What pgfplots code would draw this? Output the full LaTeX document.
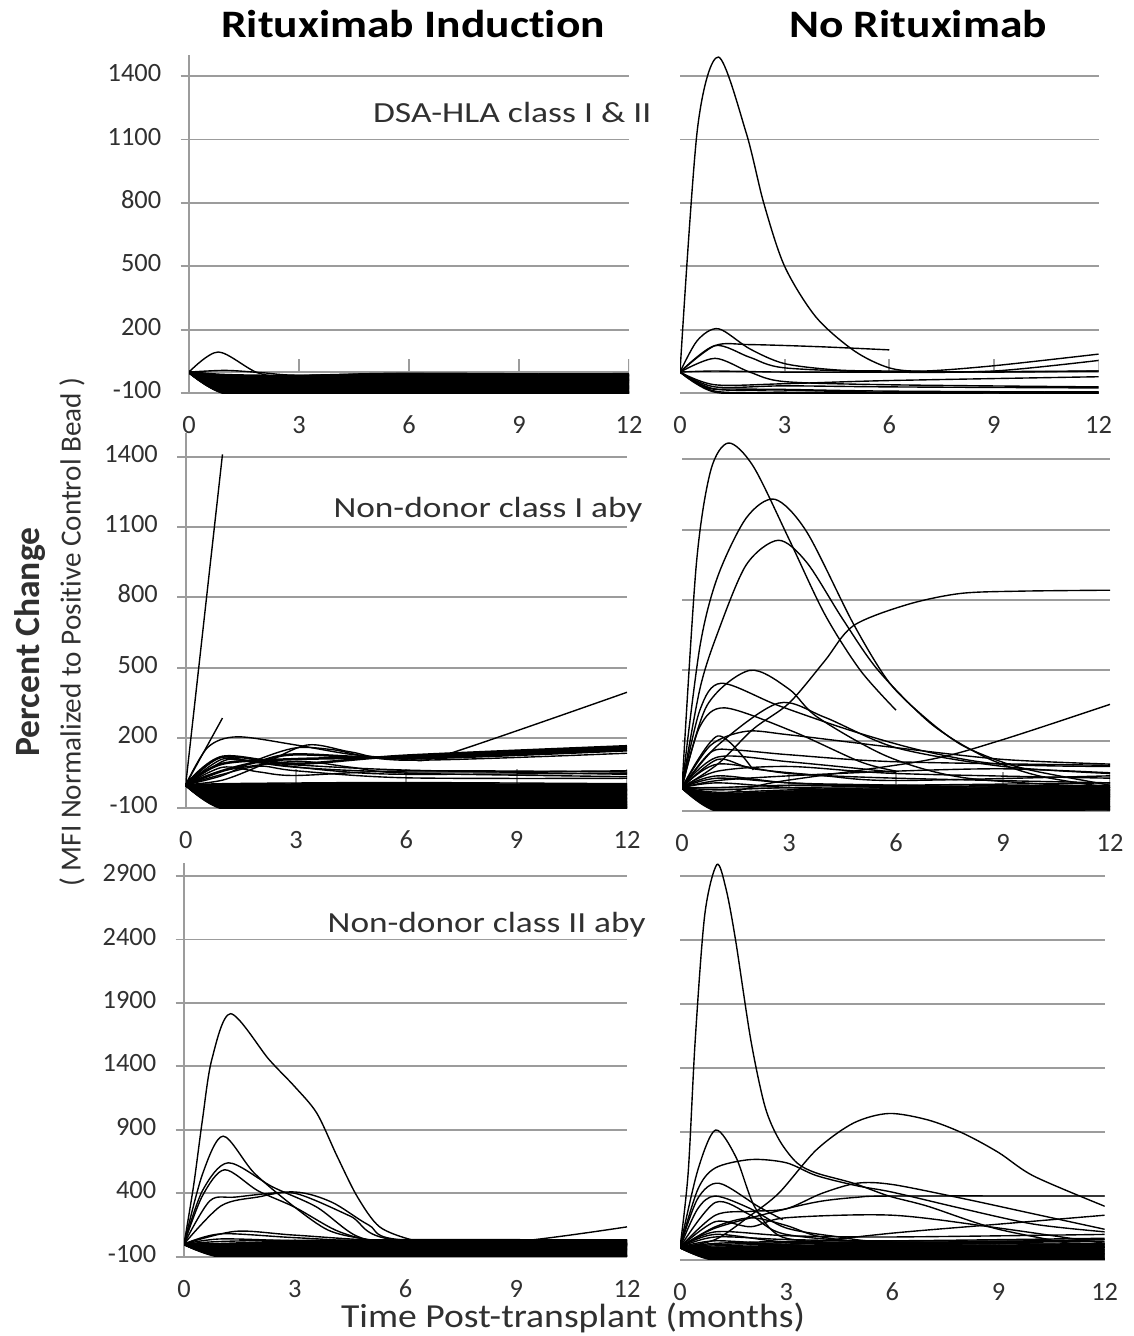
\documentclass[border=0pt]{standalone}
\usepackage{fontspec}
\setmainfont{Carlito}[Ligatures=NoCommon]
\usepackage{pgfplots}
\pgfplotsset{compat=1.18}
\definecolor{gridgray}{HTML}{9C9C9C}
\definecolor{txt}{HTML}{303030}
\pgfplotsset{
  panel/.style={
    scale only axis, xmin=0, xmax=12, xtick={0,3,6,9,12},
    ymajorgrids, major grid style={gridgray, line width=0.7pt},
    axis lines=left, axis line style={-},
    x axis line style={draw=none},
    y axis line style={gridgray, line width=0.7pt},
    tick align=outside, major tick length=3pt,
    xtick style={draw=none},
    ytick style={gridgray, line width=0.7pt},
    ticklabel style={font=\fontsize{9.5}{10}\selectfont, text=txt},
    typeset ticklabels with strut,
    /pgf/number format/assume math mode=true,
    /pgf/number format/1000 sep={},
    xticklabel style={yshift=-1pt},
    yticklabel style={xshift=-3.5pt},
    clip=true,
  },
  rpanel/.style={panel, y axis line style={draw=none}, ytick style={draw=none}, yticklabels={}},
  ln/.style={black, line width=0.5pt, smooth},
  bd/.style={black, line width=0.9pt, smooth},
}
\newcommand{\zeroaxis}{%
  \draw[gridgray, line width=0.7pt] (axis cs:0,0) -- (axis cs:12,0);
  \draw[gridgray, line width=0.7pt] (axis cs:3,0) -- ++(0,-2.8pt);
  \draw[gridgray, line width=0.7pt] (axis cs:6,0) -- ++(0,-2.8pt);
  \draw[gridgray, line width=0.7pt] (axis cs:9,0) -- ++(0,-2.8pt);
  \draw[gridgray, line width=0.7pt] (axis cs:12,0) -- ++(0,-2.8pt);
}
\begin{document}
\begin{tikzpicture}
\useasboundingbox (0,0) rectangle (408.24pt,480.96pt);

% ---------------- Row 1 left ----------------
\begin{axis}[panel, at={(68.04pt,339.39pt)}, anchor=south west,
  width=158.4pt, height=121.79pt, ymin=-100, ymax=1500,
  ytick={-100,200,500,800,1100,1400}]
\zeroaxis
\addplot[ln] coordinates {(0,0)(0.8,95)(1.9,-5)(3,-22)(6,-12)(12,-18)};
\addplot[ln] coordinates {(0,0)(1,8)(2,-3)(3,-15)(6,-8)(12,-12)};
\addplot[bd] coordinates {(0,0)(1,-100)(3,-100)(6,-100)(12,-100)};
\addplot[bd] coordinates {(0,0)(1,-98)(3,-95)(6,-97)(12,-99)};
\addplot[bd] coordinates {(0,0)(1,-95)(3,-90)(6,-92)(12,-96)};
\addplot[bd] coordinates {(0,0)(1,-92)(3,-88)(6,-85)(12,-90)};
\addplot[bd] coordinates {(0,0)(1,-90)(3,-82)(6,-80)(12,-86)};
\addplot[bd] coordinates {(0,0)(1,-85)(3,-78)(6,-75)(12,-82)};
\addplot[bd] coordinates {(0,0)(1,-80)(3,-74)(6,-70)(12,-78)};
\addplot[bd] coordinates {(0,0)(1,-75)(3,-70)(6,-66)(12,-72)};
\addplot[bd] coordinates {(0,0)(1,-70)(3,-65)(6,-60)(12,-68)};
\addplot[bd] coordinates {(0,0)(1,-66)(3,-60)(6,-56)(12,-64)};
\addplot[bd] coordinates {(0,0)(1,-62)(3,-56)(6,-52)(12,-60)};
\addplot[bd] coordinates {(0,0)(1,-58)(3,-52)(6,-48)(12,-55)};
\addplot[bd] coordinates {(0,0)(1,-54)(3,-48)(6,-44)(12,-52)};
\addplot[bd] coordinates {(0,0)(1,-50)(3,-44)(6,-40)(12,-48)};
\addplot[bd] coordinates {(0,0)(1,-46)(3,-40)(6,-36)(12,-45)};
\addplot[bd] coordinates {(0,0)(1,-42)(3,-36)(6,-32)(12,-42)};
\addplot[bd] coordinates {(0,0)(1,-38)(3,-33)(6,-28)(12,-38)};
\addplot[bd] coordinates {(0,0)(1,-34)(3,-30)(6,-25)(12,-35)};
\addplot[bd] coordinates {(0,0)(1,-30)(3,-28)(6,-20)(12,-32)};
\addplot[bd] coordinates {(0,0)(1,-26)(3,-25)(6,-16)(12,-28)};
\addplot[bd] coordinates {(0,0)(1,-22)(3,-22)(6,-12)(12,-25)};
\addplot[bd] coordinates {(0,0)(1,-18)(3,-20)(6,-10)(12,-20)};
\addplot[bd] coordinates {(0,0)(1,-14)(3,-18)(6,-8)(12,-15)};
\addplot[bd] coordinates {(0,0)(1,-20)(3,-30)(6,-15)(12,-10)};
\addplot[bd] coordinates {(0,0)(1,-60)(3,-70)(6,-90)(12,-95)};
\addplot[bd] coordinates {(0,0)(1,-35)(3,-45)(6,-55)(12,-70)};
\addplot[bd] coordinates {(0,0)(1,-45)(3,-55)(6,-30)(12,-40)};
\addplot[bd] coordinates {(0,0)(1,-100)(3,-95)(6,-85)(12,-75)};
\end{axis}

% ---------------- Row 1 right ----------------
\begin{axis}[rpanel, at={(244.8pt,339.39pt)}, anchor=south west,
  width=150.66pt, height=121.79pt, ymin=-100, ymax=1500,
  ytick={-100,200,500,800,1100,1400}]
\zeroaxis
\addplot[ln] coordinates {(0,0)(0.5,1150)(1.1,1490)(1.9,1130)(2.4,800)(3,500)(3.9,260)(5,100)(6,20)(7,5)(9,30)(12,85)};
\addplot[ln] coordinates {(0,0)(0.5,150)(1.1,205)(2,110)(3,40)(4.5,10)(6,5)(9,0)(12,5)};
\addplot[ln] coordinates {(0,0)(1,125)(2,130)(4,120)(6,105)};
\addplot[ln] coordinates {(0,0)(1,125)(2,70)(3,20)(6,0)(9,5)(12,55)};
\addplot[ln] coordinates {(0,0)(1,65)(2,0)(3,-45)(6,-60)(12,-70)};
\addplot[ln] coordinates {(0,0)(1,-80)(3,-85)(6,-95)(12,-93)};
\addplot[ln] coordinates {(0,0)(1,-90)(3,-95)(6,-98)(12,-100)};
\addplot[ln] coordinates {(0,0)(1,-70)(3,-65)(6,-70)(12,-75)};
\addplot[ln] coordinates {(0,0)(1,-60)(3,-55)(6,-40)(12,-22)};
\addplot[ln] coordinates {(0,0)(1,5)(3,0)(6,0)(12,5)};
\addplot[ln] coordinates {(0,0)(0.8,-75)(1.5,-80)(3,-82)(6,-90)(12,-95)};
\addplot[ln] coordinates {(0,0)(1,-95)(3,-100)(6,-100)(12,-98)};
\end{axis}

% ---------------- Row 2 left ----------------
\begin{axis}[panel, at={(66.85pt,189.97pt)}, anchor=south west,
  width=158.87pt, height=135pt, ymin=-100, ymax=1500,
  ytick={-100,200,500,800,1100,1400}]
\zeroaxis
\addplot[ln] coordinates {(0,0)(1,1410)};
\addplot[ln] coordinates {(0,0)(1,285)};
\addplot[ln] coordinates {(0,0)(0.6,160)(1.4,205)(3,170)(4.5,130)(6,112)(7,125)(12,395)};
\addplot[ln] coordinates {(0,0)(1,40)(2,110)(3,158)(4,150)(6,105)(12,135)};
\addplot[ln] coordinates {(0,0)(1,20)(2,80)(3.3,170)(4.5,140)(6,110)(12,145)};
\addplot[bd] coordinates {(0,0)(1,60)(2,100)(3,130)(6,115)(12,150)};
\addplot[bd] coordinates {(0,0)(1,90)(3,110)(6,120)(12,158)};
\addplot[bd] coordinates {(0,0)(1,120)(3,90)(6,125)(12,165)};
\addplot[ln] coordinates {(0,0)(1,110)(2,95)(4,60)(6,45)(12,50)};
\addplot[ln] coordinates {(0,0)(1,100)(1.5,105)(3,75)(6,55)(12,60)};
\addplot[ln] coordinates {(0,0)(1,60)(3,100)(4.5,75)(6,50)(12,35)};
\addplot[ln] coordinates {(0,0)(1,45)(2,80)(3,60)(6,30)(12,28)};
\addplot[ln] coordinates {(0,0)(1,75)(2,55)(3,40)(6,60)(12,55)};
\addplot[ln] coordinates {(0,0)(0.9,115)(1.8,100)(3,85)(6,63)(12,45)};
\addplot[bd] coordinates {(0,0)(1,-100)(3,-100)(6,-100)(12,-100)};
\addplot[bd] coordinates {(0,0)(1,-97)(3,-96)(6,-95)(12,-98)};
\addplot[bd] coordinates {(0,0)(1,-94)(3,-92)(6,-90)(12,-95)};
\addplot[bd] coordinates {(0,0)(1,-90)(3,-88)(6,-86)(12,-92)};
\addplot[bd] coordinates {(0,0)(1,-86)(3,-84)(6,-82)(12,-88)};
\addplot[bd] coordinates {(0,0)(1,-82)(3,-80)(6,-78)(12,-85)};
\addplot[bd] coordinates {(0,0)(1,-78)(3,-75)(6,-74)(12,-82)};
\addplot[bd] coordinates {(0,0)(1,-74)(3,-71)(6,-70)(12,-78)};
\addplot[bd] coordinates {(0,0)(1,-70)(3,-67)(6,-66)(12,-74)};
\addplot[bd] coordinates {(0,0)(1,-66)(3,-63)(6,-62)(12,-70)};
\addplot[bd] coordinates {(0,0)(1,-62)(3,-59)(6,-58)(12,-66)};
\addplot[bd] coordinates {(0,0)(1,-58)(3,-55)(6,-54)(12,-62)};
\addplot[bd] coordinates {(0,0)(1,-54)(3,-51)(6,-50)(12,-58)};
\addplot[bd] coordinates {(0,0)(1,-50)(3,-47)(6,-46)(12,-54)};
\addplot[bd] coordinates {(0,0)(1,-46)(3,-43)(6,-42)(12,-50)};
\addplot[bd] coordinates {(0,0)(1,-42)(3,-39)(6,-38)(12,-46)};
\addplot[bd] coordinates {(0,0)(1,-38)(3,-35)(6,-34)(12,-42)};
\addplot[bd] coordinates {(0,0)(1,-34)(3,-31)(6,-30)(12,-38)};
\addplot[bd] coordinates {(0,0)(1,-30)(3,-27)(6,-26)(12,-34)};
\addplot[bd] coordinates {(0,0)(1,-26)(3,-23)(6,-22)(12,-30)};
\addplot[bd] coordinates {(0,0)(1,-22)(3,-19)(6,-18)(12,-26)};
\addplot[bd] coordinates {(0,0)(1,-18)(3,-15)(6,-14)(12,-22)};
\addplot[bd] coordinates {(0,0)(1,-14)(3,-11)(6,-10)(12,-18)};
\addplot[bd] coordinates {(0,0)(1,-10)(3,-7)(6,-6)(12,-14)};
\addplot[bd] coordinates {(0,0)(1,-6)(3,-3)(6,-2)(12,-10)};
\addplot[bd] coordinates {(0,0)(1,-2)(3,0)(6,2)(12,-5)};
\addplot[ln] coordinates {(0,0)(1,2)(3,4)(6,6)(12,0)};
\addplot[ln] coordinates {(0,0)(1,5)(3,8)(6,10)(12,5)};
\addplot[bd] coordinates {(0,0)(1,-40)(3,-60)(6,-80)(12,-95)};
\addplot[bd] coordinates {(0,0)(1,-70)(3,-50)(6,-30)(12,-20)};
\addplot[bd] coordinates {(0,0)(1,-90)(3,-70)(6,-60)(12,-40)};
\addplot[bd] coordinates {(0,0)(1,-30)(3,-50)(6,-70)(12,-85)};
\addplot[bd] coordinates {(0,0)(1,-55)(3,-30)(6,-20)(12,-60)};
\addplot[bd] coordinates {(0,0)(1,-20)(3,-40)(6,-55)(12,-75)};
\end{axis}

% ---------------- Row 2 right ----------------
\begin{axis}[rpanel, at={(245.52pt,189.0pt)}, anchor=south west,
  width=154.08pt, height=135pt, ymin=-100, ymax=1500,
  ytick={-100,200,500,800,1100,1400}]
\zeroaxis
\addplot[ln] coordinates {(0,0)(0.4,950)(0.8,1350)(1.3,1470)(2,1370)(3,1060)(4,740)(5,500)(6,330)};
\addplot[ln] coordinates {(0,0)(0.5,600)(1,900)(1.8,1150)(2.6,1230)(3.5,1090)(4.8,700)(5.8,450)(6.8,300)(7.8,185)(8.9,113)(9.9,70)(12,10)};
\addplot[ln] coordinates {(0,0)(0.5,420)(1,660)(1.8,950)(2.7,1055)(3.5,960)(4.5,720)(5.5,500)(7,270)(8.5,130)(10,50)(12,0)};
\addplot[ln] coordinates {(0,0)(1,100)(2,250)(3,360)(4,540)(4.8,690)(6.3,780)(7.8,828)(9.5,838)(12,842)};
\addplot[ln] coordinates {(0,0)(0.7,350)(1.9,500)(3,420)(3.8,300)(5.8,130)(8,40)(12,0)};
\addplot[ln] coordinates {(0,0)(0.5,330)(1.1,445)(2.7,350)(4.8,240)(6.8,155)(8.9,100)(12,90)};
\addplot[ln] coordinates {(0,0)(0.5,260)(1.2,340)(3.1,240)(5,110)(6,70)};
\addplot[ln] coordinates {(0,0)(1,180)(2.7,360)(4,300)(6,170)(9,90)(12,60)};
\addplot[ln] coordinates {(0,0)(1,-30)(2.7,25)(6.8,115)(8.9,200)(12,355)};
\addplot[ln] coordinates {(0,0)(0.8,180)(1.8,240)(3,225)(6,170)(9,120)(12,100)};
\addplot[ln] coordinates {(0,0)(0.8,150)(1.5,160)(3,140)(6,110)(12,95)};
\addplot[ln] coordinates {(0,0)(1,220)(2,75)};
\addplot[ln] coordinates {(0,0)(1,130)(3,110)(6,65)};
\addplot[ln] coordinates {(0,0)(1,100)(3,60)(6,40)(12,20)};
\addplot[ln] coordinates {(0,0)(1,70)(3,90)(6,60)(12,40)};
\addplot[ln] coordinates {(0,0)(1,50)(3,20)(6,10)(12,-10)};
\addplot[ln] coordinates {(0,0)(1,120)(2,80)(4,50)(6,30)(12,50)};
\addplot[ln] coordinates {(0,0)(1,30)(3,50)(6,70)(9,80)(12,63)};
\addplot[bd] coordinates {(0,0)(1,-100)(3,-98)(6,-95)(12,-90)};
\addplot[bd] coordinates {(0,0)(1,-95)(3,-90)(6,-88)(12,-85)};
\addplot[bd] coordinates {(0,0)(1,-90)(3,-85)(6,-80)(12,-78)};
\addplot[bd] coordinates {(0,0)(1,-85)(3,-80)(6,-72)(12,-70)};
\addplot[bd] coordinates {(0,0)(1,-80)(3,-75)(6,-65)(12,-62)};
\addplot[bd] coordinates {(0,0)(1,-75)(3,-68)(6,-58)(12,-55)};
\addplot[bd] coordinates {(0,0)(1,-70)(3,-60)(6,-50)(12,-48)};
\addplot[bd] coordinates {(0,0)(1,-65)(3,-55)(6,-45)(12,-42)};
\addplot[bd] coordinates {(0,0)(1,-60)(3,-50)(6,-40)(12,-36)};
\addplot[bd] coordinates {(0,0)(1,-55)(3,-45)(6,-35)(12,-30)};
\addplot[bd] coordinates {(0,0)(1,-50)(3,-40)(6,-30)(12,-25)};
\addplot[bd] coordinates {(0,0)(1,-45)(3,-35)(6,-25)(12,-20)};
\addplot[bd] coordinates {(0,0)(1,-40)(3,-30)(6,-20)(12,-15)};
\addplot[bd] coordinates {(0,0)(1,-35)(3,-25)(6,-15)(12,-10)};
\addplot[bd] coordinates {(0,0)(1,-30)(3,-20)(6,-10)(12,-5)};
\addplot[ln] coordinates {(0,0)(1,-25)(3,-15)(6,-5)(12,0)};
\addplot[ln] coordinates {(0,0)(1,-20)(3,-10)(6,0)(12,5)};
\addplot[ln] coordinates {(0,0)(1,-10)(3,0)(6,5)(12,10)};
\addplot[ln] coordinates {(0,0)(1,0)(3,10)(6,10)(12,20)};
\addplot[ln] coordinates {(0,0)(1,-90)(3,-95)(6,-98)(12,-100)};
\addplot[ln] coordinates {(0,0)(1,-60)(3,-80)(6,-90)(12,-95)};
\addplot[ln] coordinates {(0,0)(1,-40)(3,-60)(6,-70)(12,-80)};
\addplot[ln] coordinates {(0,0)(1,20)(3,0)(6,-20)(12,-40)};
\addplot[ln] coordinates {(0,0)(1,40)(3,20)(6,0)(12,-30)};
\end{axis}

% ---------------- Row 3 left ----------------
\begin{axis}[panel, at={(66.24pt,28.55pt)}, anchor=south west,
  width=159.48pt, height=141.6pt, ymin=-100, ymax=3000,
  ytick={-100,400,900,1400,1900,2400,2900}]
\zeroaxis
\addplot[ln] coordinates {(0,0)(0.26,460)(0.5,980)(0.75,1450)(1.26,1815)(2.3,1455)(3,1240)(3.6,1030)(4.15,690)(4.7,370)(5.3,135)(6.2,30)(7,0)(9,-5)(12,-10)};
\addplot[ln] coordinates {(0,0)(0.5,550)(1.06,850)(1.9,560)(3,290)(3.9,110)(4.8,45)(6,20)(12,0)};
\addplot[ln] coordinates {(0,0)(0.5,420)(1.2,640)(2.4,450)(3.6,290)(4.7,60)(6,10)(12,-10)};
\addplot[ln] coordinates {(0,0)(0.5,380)(1.1,585)(2,420)(3,290)(4.1,110)(5,30)(6,0)(12,-20)};
\addplot[ln] coordinates {(0,0)(0.7,340)(1.4,370)(3,410)(4,330)(5,150)(6,30)(12,0)};
\addplot[ln] coordinates {(0,0)(1,300)(2,370)(3,400)(4.5,220)(5.8,30)(12,0)};
\addplot[ln] coordinates {(0,0)(1.4,100)(3,70)(6,20)(12,10)};
\addplot[ln] coordinates {(0,0)(1,80)(3,50)(6,10)(12,-5)};
\addplot[ln] coordinates {(0,0)(1,-20)(3,-10)(6,0)(9,20)(12,135)};
\addplot[bd] coordinates {(0,0)(1,-100)(3,-100)(6,-100)(12,-100)};
\addplot[bd] coordinates {(0,0)(1,-95)(3,-92)(6,-95)(12,-98)};
\addplot[bd] coordinates {(0,0)(1,-90)(3,-85)(6,-88)(12,-92)};
\addplot[bd] coordinates {(0,0)(1,-85)(3,-78)(6,-80)(12,-85)};
\addplot[bd] coordinates {(0,0)(1,-80)(3,-70)(6,-72)(12,-78)};
\addplot[bd] coordinates {(0,0)(1,-75)(3,-62)(6,-65)(12,-70)};
\addplot[bd] coordinates {(0,0)(1,-70)(3,-55)(6,-58)(12,-62)};
\addplot[bd] coordinates {(0,0)(1,-65)(3,-48)(6,-50)(12,-55)};
\addplot[bd] coordinates {(0,0)(1,-60)(3,-40)(6,-42)(12,-48)};
\addplot[bd] coordinates {(0,0)(1,-55)(3,-33)(6,-35)(12,-40)};
\addplot[bd] coordinates {(0,0)(1,-50)(3,-26)(6,-28)(12,-32)};
\addplot[bd] coordinates {(0,0)(1,-45)(3,-20)(6,-20)(12,-25)};
\addplot[bd] coordinates {(0,0)(1,-40)(3,-14)(6,-12)(12,-18)};
\addplot[bd] coordinates {(0,0)(1,-35)(3,-8)(6,-5)(12,-10)};
\addplot[bd] coordinates {(0,0)(1,-30)(3,-2)(6,2)(12,-3)};
\addplot[bd] coordinates {(0,0)(1,-25)(3,4)(6,10)(12,5)};
\addplot[bd] coordinates {(0,0)(1,-20)(3,10)(6,18)(12,12)};
\addplot[bd] coordinates {(0,0)(1,-10)(3,15)(6,25)(12,20)};
\addplot[bd] coordinates {(0,0)(1,0)(3,20)(6,30)(12,28)};
\addplot[ln] coordinates {(0,0)(1,20)(3,30)(6,20)(12,30)};
\addplot[ln] coordinates {(0,0)(1,40)(3,25)(6,10)(12,0)};
\addplot[bd] coordinates {(0,0)(1,-60)(3,-80)(6,-90)(12,-95)};
\addplot[bd] coordinates {(0,0)(1,-90)(3,-95)(6,-60)(12,-40)};
\end{axis}

% ---------------- Row 3 right ----------------
\begin{axis}[rpanel, at={(244.8pt,27.36pt)}, anchor=south west,
  width=152.9pt, height=142.8pt, ymin=-100, ymax=3000,
  ytick={-100,400,900,1400,1900,2400,2900}]
\zeroaxis
\addplot[ln] coordinates {(0,0)(0.23,580)(0.43,1620)(0.7,2600)(1.04,2990)(1.3,2800)(1.57,2400)(2,1620)(2.4,1100)(2.8,840)(3.3,660)(3.85,580)(4.9,500)(5.9,400)(7,320)(9,140)(12,-20)};
\addplot[ln] coordinates {(0,0)(0.5,600)(1,915)(1.57,710)(2.1,320)(2.8,90)(4,40)(6,20)(12,0)};
\addplot[ln] coordinates {(0,0)(0.5,450)(1,620)(2,685)(3,660)(3.85,560)(5,480)(6,430)(8,300)(10,180)(12,120)};
\addplot[ln] coordinates {(0,0)(1,60)(2,250)(2.8,425)(3.85,760)(4.9,970)(5.9,1045)(7,995)(8,890)(9,740)(10,555)(12,320)};
\addplot[ln] coordinates {(0,0)(1,150)(3,300)(4,360)(5,390)(6,400)(12,400)};
\addplot[ln] coordinates {(0,0)(1,250)(2,280)(3,300)(4,420)(5,500)(6,490)(8,380)(10,260)(12,140)};
\addplot[ln] coordinates {(0,0)(0.5,380)(1.1,500)(2.2,320)(2.9,215)};
\addplot[ln] coordinates {(0,0)(0.5,300)(1,400)(2,300)(3,150)(4.5,80)(6,40)(12,20)};
\addplot[ln] coordinates {(0,0)(1,-20)(3,20)(6,110)(9,180)(12,250)};
\addplot[ln] coordinates {(0,0)(1,350)(2,250)(3,100)(6,40)(12,60)};
\addplot[ln] coordinates {(0,0)(1,200)(2,160)(3,230)(6,250)(9,150)(12,30)};
\addplot[ln] coordinates {(0,0)(1,120)(3,90)(6,80)(12,100)};
\addplot[ln] coordinates {(0,0)(1,160)(2,230)(3,170)(4,80)(6,30)(12,0)};
\addplot[bd] coordinates {(0,0)(1,-100)(3,-100)(6,-100)(12,-100)};
\addplot[bd] coordinates {(0,0)(1,-95)(3,-92)(6,-90)(12,-95)};
\addplot[bd] coordinates {(0,0)(1,-90)(3,-85)(6,-80)(12,-88)};
\addplot[bd] coordinates {(0,0)(1,-85)(3,-75)(6,-70)(12,-80)};
\addplot[bd] coordinates {(0,0)(1,-80)(3,-65)(6,-60)(12,-70)};
\addplot[bd] coordinates {(0,0)(1,-70)(3,-55)(6,-50)(12,-60)};
\addplot[bd] coordinates {(0,0)(1,-60)(3,-45)(6,-40)(12,-50)};
\addplot[bd] coordinates {(0,0)(1,-50)(3,-35)(6,-30)(12,-40)};
\addplot[bd] coordinates {(0,0)(1,-40)(3,-25)(6,-20)(12,-30)};
\addplot[bd] coordinates {(0,0)(1,-30)(3,-15)(6,-10)(12,-20)};
\addplot[bd] coordinates {(0,0)(1,-20)(3,-5)(6,0)(12,-10)};
\addplot[bd] coordinates {(0,0)(1,-10)(3,5)(6,10)(12,0)};
\addplot[ln] coordinates {(0,0)(1,0)(3,15)(6,20)(12,10)};
\addplot[ln] coordinates {(0,0)(1,10)(3,25)(6,30)(12,20)};
\addplot[ln] coordinates {(0,0)(1,20)(3,35)(6,40)(12,30)};
\addplot[ln] coordinates {(0,0)(1,30)(3,45)(6,50)(12,45)};
\addplot[ln] coordinates {(0,0)(1,-50)(3,-80)(6,-95)(12,-90)};
\addplot[ln] coordinates {(0,0)(1,50)(3,20)(6,-10)(12,-50)};
\addplot[ln] coordinates {(0,0)(1,100)(3,40)(6,20)(12,60)};
\addplot[ln] coordinates {(0,0)(1,80)(3,60)(6,50)(12,70)};
\end{axis}

% ---------------- Text ----------------
\node[anchor=base, font=\bfseries\fontsize{14}{16}\selectfont] at (148.7pt,467.3pt) {\scalebox{1.17}[1]{Rituximab Induction}};
\node[anchor=base, font=\bfseries\fontsize{14}{16}\selectfont] at (330.5pt,467.3pt) {\scalebox{1.17}[1]{No Rituximab}};
\node[anchor=base east, font=\fontsize{10.5}{12}\selectfont, text=txt, inner sep=0pt] at (234.7pt,437.0pt) {\scalebox{1.22}[1]{DSA-HLA class I \& II}};
\node[anchor=base east, font=\fontsize{10.5}{12}\selectfont, text=txt, inner sep=0pt] at (231.5pt,294.5pt) {\scalebox{1.21}[1]{Non-donor class I aby}};
\node[anchor=base east, font=\fontsize{10.5}{12}\selectfont, text=txt, inner sep=0pt] at (232.6pt,145.4pt) {\scalebox{1.21}[1]{Non-donor class II aby}};
\node[rotate=90, font=\bfseries\fontsize{12.8}{14}\selectfont, text=txt] at (10.8pt,249.8pt) {Percent Change};
\node[rotate=90, font=\fontsize{10.5}{12}\selectfont, text=txt] at (25.9pt,253.4pt) {( MFI Normalized to Positive Control Bead )};
\node[anchor=base, font=\fontsize{12.1}{14}\selectfont, text=txt, inner sep=0pt] at (206.3pt,3.2pt) {\scalebox{1.12}[1]{Time Post-transplant (months)}};
\end{tikzpicture}
\end{document}
